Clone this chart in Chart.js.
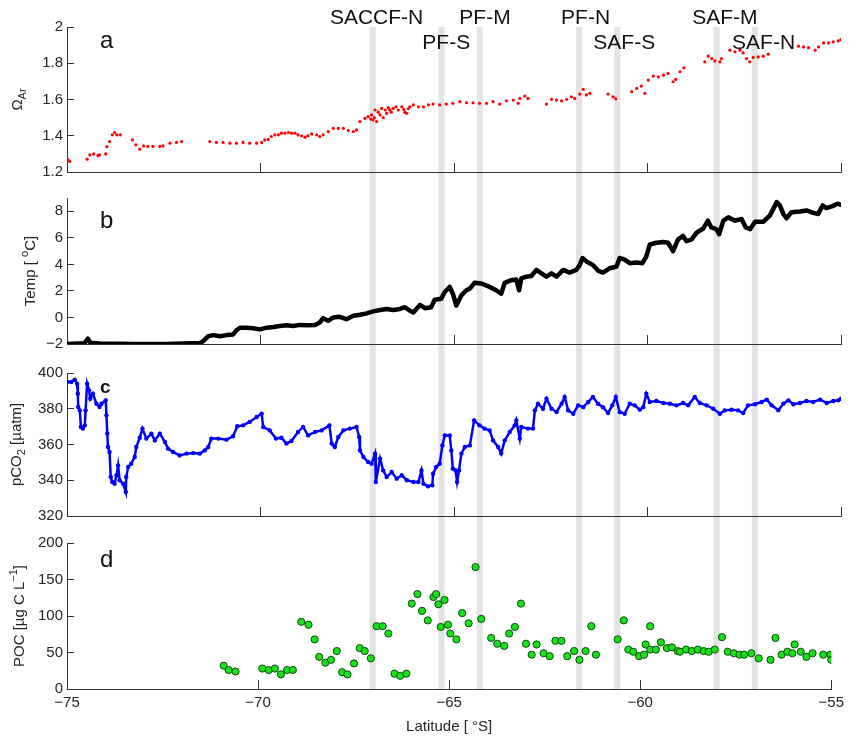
<!DOCTYPE html>
<html>
<head>
<meta charset="utf-8">
<title>Underway transect</title>
<script src="https://cdn.jsdelivr.net/npm/chart.js@4/dist/chart.umd.min.js"></script>
<style>
  body { margin:0; background:#fff; }
  #wrap { position:relative; width:858px; height:744px; }
  #wrap canvas { position:absolute; left:0; top:0; }
</style>
</head>
<body>
<div id="wrap">
  <canvas id="cD" width="858" height="744"></canvas>
  <canvas id="cA" width="858" height="744"></canvas>
  <canvas id="cB" width="858" height="744"></canvas>
  <canvas id="cC" width="858" height="744"></canvas>
</div>
<script>
// fronts
const frontLat  = [-67.0, -65.2, -64.2, -61.6, -60.6, -58.0, -57.0];
const frontName = ['SACCF-N', 'PF-S', 'PF-M', 'PF-N', 'SAF-S', 'SAF-M', 'SAF-N'];

// a: aragonite saturation
const latA = [
  -74.97,-74.93,-74.48,-74.41,-74.31,-74.20,-74.16,-74.00,-73.97,-73.90,
  -73.83,-73.77,-73.71,-73.62,-73.31,-73.22,-73.12,-73.02,-72.91,-72.78,
  -72.60,-72.52,-72.34,-72.17,-72.04,
  -71.31,-71.14,-70.97,-70.79,-70.62,-70.45,-70.28,-70.10,-69.97,-69.89,
  -69.80,-69.72,-69.63,-69.54,-69.46,-69.37,-69.28,-69.20,-69.11,-69.03,
  -68.94,-68.85,-68.77,-68.68,-68.55,-68.47,-68.38,-68.25,-68.12,-67.99,
  -67.86,-67.73,-67.60,-67.52,-67.43,-67.30,-67.22,-67.13,-67.09,-67.04,
  -67.00,-66.91,-66.87,-66.78,-66.74,-66.66,-66.57,-66.44,-66.35,-66.22,
  -66.14,-66.05,-65.92,-65.79,-65.66,-65.54,-65.37,-65.20,-65.03,-64.85,
  -64.68,-64.51,-64.34,-64.16,-63.99,-63.82,-63.65,-63.47,-63.34,-63.30,
  -63.17,-63.09,
  -62.61,-62.48,-62.35,-62.22,-62.09,-61.97,-61.88,-61.75,-61.66,-61.58,-61.49,
  -61.02,-60.89,-60.82,
  -60.41,-60.28,-60.16,-60.07,-59.98,-59.85,-59.72,-59.59,-59.47,-59.34,-59.27,-59.16,-59.06,
  -58.52,-58.43,-58.34,-58.26,-58.13,-58.09,
  -57.87,-57.74,-57.61,-57.53,-57.44,-57.36,-57.27,-57.14,-57.01,-56.88,
  -56.10,-55.97,-55.84,-55.67,-55.58,-55.45,-55.32,-55.20,-55.07,-55.00,
  // extra samples in the dense patch near SACCF-N
  -67.15,-67.06,-66.96,-66.83,-66.70,-66.62,-66.50,-66.30,-66.27,-66.18
];
const omegaA = [
  1.267,1.258,1.271,1.295,1.300,1.290,1.295,1.300,1.340,1.368,
  1.405,1.418,1.405,1.405,1.377,1.350,1.326,1.344,1.341,1.341,
  1.341,1.344,1.359,1.363,1.368,
  1.368,1.363,1.363,1.359,1.359,1.363,1.359,1.359,1.363,1.377,
  1.380,1.396,1.405,1.405,1.414,1.414,1.418,1.414,1.414,1.405,
  1.400,1.392,1.400,1.410,1.405,1.396,1.405,1.423,1.441,1.441,
  1.441,1.429,1.423,1.432,1.478,1.496,1.505,1.515,1.487,1.542,
  1.478,1.515,1.551,1.542,1.524,1.542,1.551,1.542,1.560,1.524,
  1.560,1.570,1.560,1.560,1.570,1.575,1.570,1.575,1.579,1.588,
  1.582,1.582,1.579,1.579,1.588,1.575,1.593,1.597,1.579,1.606,
  1.619,1.606,
  1.575,1.601,1.597,1.592,1.601,1.615,1.606,1.630,1.656,1.625,1.634,
  1.630,1.615,1.604,
  1.643,1.661,1.674,1.634,1.707,1.729,1.725,1.734,1.744,1.698,1.711,1.753,1.775,
  1.808,1.839,1.826,1.813,1.808,1.826,
  1.872,1.863,1.872,1.857,1.826,1.808,1.832,1.835,1.839,1.850,
  1.894,1.890,1.886,1.872,1.890,1.912,1.912,1.918,1.923,1.930,
  1.492,1.500,1.530,1.500,1.555,1.530,1.560,1.545,1.530,1.550
];

// b: temperature
const latB = [
  -75.00,-74.55,-74.46,-74.40,-74.16,-73.29,-72.43,-71.57,-71.48,-71.35,
  -71.22,-71.05,-70.88,-70.71,-70.62,-70.53,-70.36,-70.19,-70.02,-69.84,
  -69.67,-69.50,-69.33,-69.16,-68.98,-68.81,-68.59,-68.47,-68.38,-68.25,
  -68.12,-67.95,-67.78,-67.60,-67.43,-67.26,-67.09,-66.91,-66.74,-66.57,
  -66.40,-66.27,-66.14,-66.05,-65.97,-65.88,-65.75,-65.59,-65.50,-65.33,
  -65.24,-65.11,-65.03,-64.94,-64.81,-64.68,-64.59,-64.47,-64.29,-64.08,
  -63.91,-63.78,-63.69,-63.52,-63.39,-63.32,-63.26,-63.13,-63.00,-62.87,
  -62.74,-62.61,-62.48,-62.35,-62.18,-62.01,-61.84,-61.75,-61.68,-61.58,
  -61.41,-61.28,-61.15,-60.97,-60.80,-60.72,-60.59,-60.46,-60.28,-60.13,
  -60.03,-59.94,-59.77,-59.59,-59.47,-59.34,-59.21,-59.08,-58.99,-58.86,
  -58.73,-58.56,-58.44,-58.35,-58.22,-58.15,-58.04,-57.91,-57.74,-57.57,
  -57.46,-57.35,-57.22,-57.01,-56.84,-56.75,-56.66,-56.58,-56.49,-56.41,
  -56.28,-56.06,-55.89,-55.72,-55.59,-55.47,-55.38,-55.22,-55.09,-55.00
];
const tempB = [
  -2.00,-1.95,-1.60,-1.90,-1.97,-2.00,-2.00,-1.92,-1.79,-1.41,
  -1.33,-1.41,-1.33,-1.28,-0.97,-0.77,-0.77,-0.82,-0.90,-0.77,
  -0.72,-0.64,-0.59,-0.64,-0.56,-0.59,-0.56,-0.38,-0.05,-0.26,
   0.00, 0.05,-0.13, 0.13, 0.20, 0.31, 0.46, 0.56, 0.64, 0.56,
   0.64, 0.77, 0.51, 0.38, 0.64, 0.95, 0.70, 0.77, 1.33, 1.41,
   1.92, 2.30, 1.79, 0.90, 1.66, 2.05, 2.17, 2.61, 2.56, 2.30,
   2.05, 1.79, 2.61, 2.81, 2.86, 2.05, 2.94, 3.07, 3.12, 3.58,
   3.32, 3.07, 3.32, 3.07, 3.58, 3.38, 3.58, 3.96, 4.48, 4.22,
   3.96, 3.53, 3.38, 3.71, 3.84, 4.48, 4.35, 4.09, 4.14, 4.09,
   4.60, 5.50, 5.63, 5.68, 5.63, 4.99, 5.88, 6.14, 5.75, 5.88,
   6.39, 6.70, 7.29, 6.78, 6.65, 6.27, 7.29, 7.54, 7.29, 7.42,
   6.78, 6.65, 7.21, 7.21, 7.67, 8.18, 8.70, 8.44, 7.80, 7.47,
   7.93, 7.98, 8.06, 7.88, 7.80, 8.44, 8.24, 8.39, 8.57, 8.49
];

// c: pCO2
const latC = [
  -75.00,-74.89,-74.80,-74.74,-74.72,-74.71,-74.67,-74.64,-74.59,-74.54,
  -74.52,-74.48,-74.43,-74.40,-74.33,-74.24,-74.16,-74.11,-74.00,-73.98,
  -73.96,-73.94,-73.90,-73.87,-73.83,-73.77,-73.72,-73.68,-73.64,-73.55,
  -73.48,-73.47,-73.42,-73.34,-73.25,-73.21,-73.12,-73.05,-72.95,-72.82,
  -72.73,-72.60,-72.47,-72.39,-72.26,-72.09,-71.91,-71.74,-71.57,-71.44,
  -71.35,-71.27,-71.09,-70.88,-70.71,-70.60,-70.45,-70.28,-70.10,-69.97,
  -69.93,-69.76,-69.60,-69.46,-69.33,-69.20,-69.03,-68.90,-68.77,-68.59,
  -68.42,-68.22,-68.16,-68.08,-67.99,-67.86,-67.69,-67.52,-67.45,-67.43,
  -67.34,-67.22,-67.13,-67.04,-67.02,-66.91,-66.83,-66.74,-66.61,-66.48,
  -66.35,-66.22,-66.05,-65.92,-65.84,-65.79,-65.67,-65.56,-65.54,-65.46,
  -65.37,-65.30,-65.24,-65.11,-65.07,-65.03,-64.96,-64.92,-64.87,-64.81,
  -64.72,-64.59,-64.48,-64.34,-64.21,-64.08,-63.99,-63.86,-63.78,-63.69,
  -63.56,-63.43,-63.39,-63.30,-63.26,-63.09,-62.96,-62.91,-62.83,-62.70,
  -62.61,-62.48,-62.35,-62.22,-62.14,-62.05,-61.92,-61.79,-61.66,-61.53,
  -61.41,-61.28,-61.15,-61.02,-60.91,-60.82,-60.72,-60.59,-60.46,-60.33,
  -60.20,-60.11,-60.03,-59.94,-59.77,-59.59,-59.42,-59.25,-59.08,-58.95,
  -58.78,-58.65,-58.47,-58.30,-58.13,-58.00,-57.83,-57.66,-57.53,-57.40,
  -57.22,-57.05,-56.92,-56.79,-56.62,-56.49,-56.36,-56.23,-56.06,-55.89,
  -55.72,-55.54,-55.37,-55.20,-55.07,-55.00
];
const pco2C = [
  395.0,395.0,396.3,394.0,388.4,381.0,379.1,369.8,368.9,370.7,
  379.1,394.0,390.3,385.6,388.4,382.8,381.0,382.8,384.7,376.3,
  366.1,358.6,355.8,341.8,339.0,338.1,342.8,348.3,340.0,338.1,
  333.4,341.8,347.4,349.3,353.0,358.6,363.8,368.9,363.3,366.1,
  362.3,366.1,361.4,357.7,355.8,353.9,354.9,355.2,354.9,356.7,
  358.6,363.3,363.3,362.7,364.6,370.2,370.7,372.6,375.4,377.2,
  369.8,367.9,363.3,363.8,360.5,362.0,367.0,369.8,365.1,367.0,
  367.9,370.7,360.5,358.6,364.2,367.9,368.9,369.8,364.2,356.7,
  353.0,350.2,349.3,354.9,339.0,352.1,345.5,341.8,344.6,340.9,
  342.8,340.0,339.0,339.0,345.5,338.1,336.6,337.2,343.7,347.4,
  349.3,359.5,365.1,365.1,356.7,346.5,345.5,339.0,345.5,354.9,
  358.6,359.5,373.5,370.7,368.9,367.9,362.3,358.6,354.9,362.3,
  367.0,370.7,373.5,363.3,369.8,368.9,368.9,379.1,382.8,380.0,
  385.6,380.0,378.2,382.8,386.6,379.1,377.2,381.9,380.9,383.8,
  386.6,382.8,380.9,377.6,381.9,386.6,378.2,377.2,382.8,381.9,
  379.5,380.9,388.4,383.8,384.3,383.2,382.8,381.9,383.2,381.9,
  386.6,383.2,381.9,380.0,377.2,379.1,379.5,379.1,377.6,381.9,
  382.5,383.8,385.1,381.9,379.1,382.8,384.7,382.5,383.2,384.3,
  383.8,385.1,383.2,384.3,384.7,385.6
];

// d: particulate organic carbon
const latD = [
  -70.90,-70.77,-70.59,-69.89,-69.72,-69.56,-69.40,-69.24,-69.09,-68.87,
  -68.68,-68.52,-68.40,-68.24,-68.09,-67.94,-67.80,-67.66,-67.49,-67.34,
  -67.21,-67.05,-66.90,-66.74,-66.59,-66.43,-66.28,-66.12,-65.98,-65.83,
  -65.71,-65.56,-65.41,-65.34,-65.28,-65.22,-65.12,-65.03,-64.97,-64.81,
  -64.66,-64.49,-64.31,-64.16,-63.90,-63.74,-63.56,-63.43,-63.28,-63.12,
  -62.99,-62.84,-62.71,-62.53,-62.37,-62.22,-62.06,-61.91,-61.73,-61.59,
  -61.43,-61.28,-61.16,-60.59,-60.43,-60.31,-60.18,-60.03,-59.90,-59.86,
  -59.74,-59.74,-59.59,-59.46,-59.30,-59.17,-59.02,-58.96,-58.80,-58.65,
  -58.49,-58.34,-58.21,-58.05,-57.86,-57.71,-57.55,-57.40,-57.28,-57.09,
  -56.90,-56.59,-56.46,-56.30,-56.15,-56.02,-55.96,-55.80,-55.65,-55.49,
  -55.21,-55.02,-55.00
];
const pocD = [
   32, 26, 24, 28, 26, 28, 20, 26, 26, 92,
   88, 68, 44, 36, 40, 52, 23, 20, 35, 56,
   52, 42, 86, 86, 76, 21, 18, 21,117,130,
  107, 94,126,130,116, 85,122, 88, 76, 68,
  104, 90,167, 96, 70, 62, 59, 76, 85,117,
   62, 47, 61, 49, 45, 66, 66, 45, 52, 40,
   52, 86, 47, 68, 94, 54, 51, 45, 47, 61,
   86, 54, 54, 64, 56, 57, 52, 51, 54, 52,
   54, 52, 51, 54, 71, 51, 49, 47, 47, 49,
   42, 40, 70, 47, 51, 49, 61, 51, 44, 49,
   47, 47, 40
];

const FONT = "'Liberation Sans', Arial, Helvetica, sans-serif";
Chart.defaults.font.family = FONT;
Chart.defaults.font.size = 15;
Chart.defaults.color = '#262626';

// panel plot areas, [top, bottom] in px
const box = [[27, 172], [198, 344], [373, 516], [543, 689]];

function pts(xs, ys) { return xs.map((x, i) => ({x: x, y: ys[i]})); }
function minus(v) { return String(v).replace('-', '\u2212'); }

// rotated axis title with sub/superscripts
function richText(ctx, parts, cx, cy, size) {
  const small = Math.round(size * 0.72);
  ctx.save();
  ctx.translate(cx, cy);
  ctx.rotate(-Math.PI / 2);
  ctx.textBaseline = 'middle';
  ctx.textAlign = 'left';
  ctx.fillStyle = '#262626';
  let w = 0;
  parts.forEach(p => {
    ctx.font = ((p.sub || p.sup) ? small : size) + 'px ' + FONT;
    p.w = ctx.measureText(p.t).width;
    w += p.w;
  });
  let x = -w / 2;
  parts.forEach(p => {
    ctx.font = ((p.sub || p.sup) ? small : size) + 'px ' + FONT;
    const dy = p.sub ? size * 0.35 : (p.sup ? -size * 0.4 : 0);
    ctx.fillText(p.t, x, dy);
    x += p.w;
  });
  ctx.restore();
}

const deco = {
  id: 'deco',
  afterDraw(chart, args, o) {
    const ctx = chart.ctx, ca = chart.chartArea;
    ctx.save();
    ctx.fillStyle = '#111';
    ctx.textAlign = 'left';
    ctx.textBaseline = 'alphabetic';
    ctx.font = o.letterFont + ' ' + FONT;
    ctx.fillText(o.letter, ca.left + 33, o.letterY);
    ctx.restore();
    richText(ctx, o.title, o.titleX, (ca.top + ca.bottom) / 2, 15);
  }
};

const frontLabels = {
  id: 'frontLabels',
  afterDraw(chart) {
    const ctx = chart.ctx, xs = chart.scales.x;
    const row = [0, 1, 0, 0, 1, 0, 1];
    ctx.save();
    ctx.font = '21px ' + FONT;
    ctx.fillStyle = '#111';
    ctx.textAlign = 'center';
    ctx.textBaseline = 'alphabetic';
    frontLat.forEach((lat, i) => {
      ctx.fillText(frontName[i], xs.getPixelForValue(lat), row[i] ? 49 : 24);
    });
    ctx.restore();
  }
};

// grey bands behind everything, drawn on the bottom canvas
const bands = {
  id: 'bands',
  beforeDraw(chart) {
    const ctx = chart.ctx, xs = chart.scales.x;
    ctx.save();
    ctx.fillStyle = '#e3e3e3';
    frontLat.forEach(lat => {
      const px = xs.getPixelForValue(lat);
      ctx.fillRect(px - 3, box[0][0], 6, chart.chartArea.bottom - box[0][0]);
    });
    ctx.restore();
  }
};

function makeChart(id, idx, datasets, yOpt, decoOpt, extra) {
  const last = idx === 3;
  return new Chart(document.getElementById(id), {
    type: 'scatter',
    data: { datasets: datasets },
    options: {
      responsive: false,
      animation: false,
      events: [],
      layout: { padding: { left: 0, right: 17, top: box[idx][0], bottom: last ? 0 : 744 - box[idx][1] } },
      plugins: { legend: { display: false }, tooltip: { enabled: false }, deco: decoOpt },
      scales: {
        x: {
          type: 'linear', min: -75, max: -55,
          ticks: { stepSize: 5, display: last, padding: 14, callback: minus },
          grid: { drawOnChartArea: false, tickLength: -9, color: '#333' },
          border: { color: '#333' },
          title: { display: last, text: 'Latitude [ °S]', padding: { top: 0, bottom: 8 }, font: { size: 15 } },
          afterFit: s => { s.height = last ? 55 : 0; }
        },
        y: {
          type: 'linear', min: yOpt.min, max: yOpt.max,
          ticks: { stepSize: yOpt.step, padding: 11, includeBounds: false, callback: minus },
          grid: { drawOnChartArea: false, tickLength: -7, color: '#333' },
          border: { color: '#333' },
          afterFit: s => { s.width = 67; }
        }
      }
    },
    plugins: [deco].concat(extra || [])
  });
}

makeChart('cD', 3, [{
  data: pts(latD, pocD), pointRadius: 3.6, backgroundColor: '#19e019', borderColor: '#0c4a0c', borderWidth: 1
}], { min: 0, max: 200, step: 50 }, {
  letter: 'd', letterFont: '24px', letterY: 567, titleX: 20,
  title: [{t: 'POC [µg C L'}, {t: '\u22121', sup: true}, {t: ']'}]
}, [bands]);

makeChart('cA', 0, [{
  data: pts(latA, omegaA), pointRadius: 1.6, backgroundColor: '#ff0000', borderWidth: 0
}], { min: 1.2, max: 2, step: 0.2 }, {
  letter: 'a', letterFont: '24px', letterY: 48, titleX: 18,
  title: [{t: 'Ω'}, {t: 'Ar', sub: true}]
}, [frontLabels]);

makeChart('cB', 1, [{
  data: pts(latB, tempB), showLine: true, borderColor: '#000', borderWidth: 4.5, pointRadius: 0,
  borderJoinStyle: 'round', borderCapStyle: 'round'
}], { min: -2, max: 9, step: 2 }, {
  letter: 'b', letterFont: '24px', letterY: 228, titleX: 31,
  title: [{t: 'Temp [ '}, {t: 'o', sup: true}, {t: 'C]'}]
});

makeChart('cC', 2, [{
  data: pts(latC, pco2C), showLine: true, borderColor: '#0000ff', borderWidth: 2.5,
  pointRadius: 2.2, backgroundColor: '#0000ff', pointBorderWidth: 0
}], { min: 320, max: 400, step: 20 }, {
  letter: 'c', letterFont: 'bold 19px', letterY: 393, titleX: 17,
  title: [{t: 'pCO'}, {t: '2', sub: true}, {t: ' [µatm]'}]
});
</script>
</body>
</html>
